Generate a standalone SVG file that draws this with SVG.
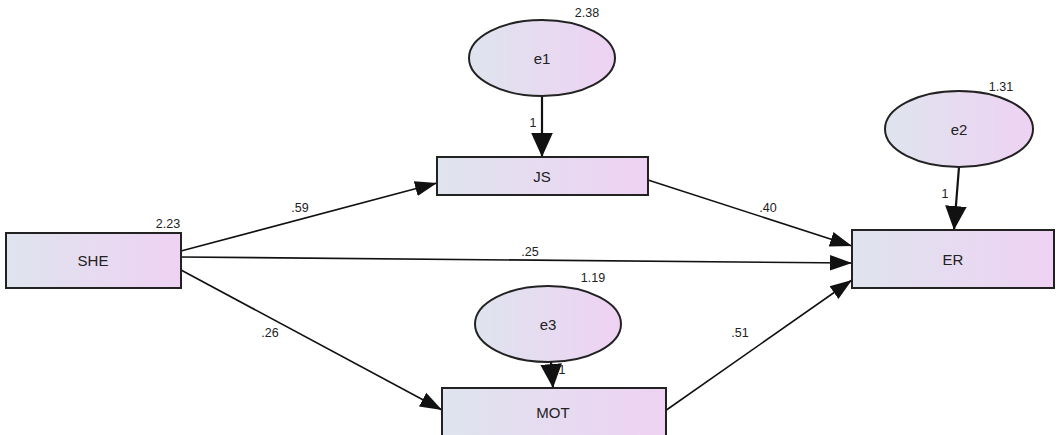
<svg xmlns="http://www.w3.org/2000/svg" width="1056" height="435" viewBox="0 0 1056 435">
<defs>
<linearGradient id="fillg" x1="0" y1="0" x2="1" y2="0">
<stop offset="0" stop-color="#dfe4ee"/>
<stop offset="1" stop-color="#eed2f3"/>
</linearGradient>
<marker id="arr" viewBox="0 0 10 10" refX="10" refY="5" markerWidth="22" markerHeight="22" markerUnits="userSpaceOnUse" orient="auto">
<path d="M0,1.5 L10,5 L0,8.5 Z" fill="#111"/>
</marker>
<marker id="arrb" viewBox="0 0 10 10" refX="10" refY="5" markerWidth="24" markerHeight="24" markerUnits="userSpaceOnUse" orient="auto">
<path d="M0,0.5 L10,5 L0,9.5 Z" fill="#111"/>
</marker>
</defs>
<style>
.box{fill:url(#fillg);stroke:#222;stroke-width:2}
.lbl{font-family:"Liberation Sans",Arial,sans-serif;font-size:15px;fill:#222;text-anchor:middle}
.num{font-family:"Liberation Sans",Arial,sans-serif;font-size:12.5px;fill:#222;text-anchor:middle}
.ln{stroke:#111;stroke-width:1.6;fill:none;marker-end:url(#arr)}
.lnb{stroke:#111;stroke-width:2.2;fill:none;marker-end:url(#arrb)}
</style>
<rect width="1056" height="435" fill="#fff"/>
<g id="connectors">
<line class="ln" x1="181" y1="251" x2="437" y2="183"/>
<line class="ln" x1="181" y1="257" x2="852" y2="263"/>
<line class="ln" x1="181" y1="270" x2="442" y2="410"/>
<line class="ln" x1="648" y1="180" x2="852" y2="246"/>
<line class="ln" x1="665" y1="411" x2="852" y2="280"/>
<line class="lnb" x1="542" y1="97" x2="542" y2="157"/>
<line class="lnb" x1="959" y1="167" x2="954" y2="230"/>
<line class="lnb" x1="551" y1="362" x2="553" y2="388"/>
<text class="num" x="300" y="212">.59</text>
<text class="num" x="530" y="256">.25</text>
<text class="num" x="270" y="337">.26</text>
<text class="num" x="768" y="212">.40</text>
<text class="num" x="740" y="337">.51</text>
<text class="num" x="533" y="127">1</text>
<text class="num" x="945" y="198">1</text>
<text class="num" x="562" y="374">1</text>
</g>
<g id="SHE">
<rect class="box" x="6" y="233" width="175" height="55"/>
<text class="lbl" x="93" y="266">SHE</text>
<text class="num" x="168" y="228">2.23</text>
</g>
<g id="JS">
<rect class="box" x="437" y="157" width="211" height="38"/>
<text class="lbl" x="542" y="182">JS</text>
</g>
<g id="ER">
<rect class="box" x="852" y="230" width="202" height="58"/>
<text class="lbl" x="953" y="265">ER</text>
</g>
<g id="MOT">
<rect class="box" x="442" y="388" width="224" height="60"/>
<text class="lbl" x="553" y="418">MOT</text>
</g>
<g id="e1">
<ellipse class="box" cx="542" cy="58" rx="73" ry="38"/>
<text class="lbl" x="542" y="64">e1</text>
<text class="num" x="587" y="17">2.38</text>
</g>
<g id="e2">
<ellipse class="box" cx="959" cy="129" rx="74" ry="38"/>
<text class="lbl" x="959" y="135">e2</text>
<text class="num" x="1001" y="91">1.31</text>
</g>
<g id="e3">
<ellipse class="box" cx="548" cy="324" rx="73" ry="38"/>
<text class="lbl" x="548" y="330">e3</text>
<text class="num" x="593" y="282">1.19</text>
</g>
</svg>
